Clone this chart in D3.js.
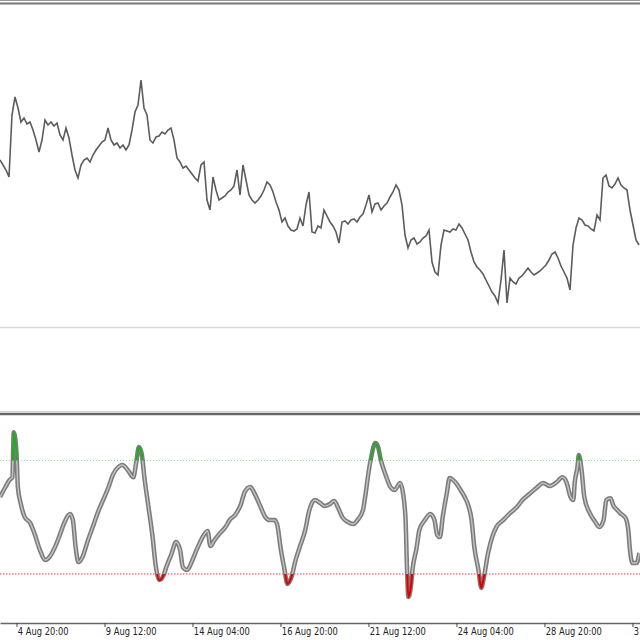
<!DOCTYPE html>
<html><head><meta charset="utf-8">
<script src="https://cdn.jsdelivr.net/npm/d3@7"></script>
<style>
html,body{margin:0;padding:0;background:#fff;}
svg{display:block;}
</style></head>
<body>
<script>
// ---- data ----
const prices = [
1.1170,1.1165,1.1160,1.1153,1.1215,1.1233,1.1222,1.1208,1.1212,1.1206,
1.1208,1.1200,1.1190,1.1178,1.1190,1.1210,1.1205,1.1208,1.1204,1.1207,
1.1195,1.1190,1.1202,1.1192,1.1175,1.1160,1.1152,1.1165,1.1170,1.1172,
1.1168,1.1175,1.1180,1.1184,1.1188,1.1190,1.1202,1.1190,1.1185,1.1187,
1.1182,1.1185,1.1180,1.1185,1.1200,1.1218,1.1225,1.1250,1.1222,1.1215,
1.1190,1.1187,1.1193,1.1194,1.1198,1.1196,1.1200,1.1202,1.1190,1.1172,
1.1168,1.1162,1.1164,1.1160,1.1156,1.1152,1.1149,1.1165,1.1168,1.1130,
1.1120,1.1153,1.1140,1.1130,1.1132,1.1134,1.1138,1.1140,1.1144,1.1160,
1.1135,1.1165,1.1150,1.1135,1.1130,1.1127,1.1130,1.1134,1.1140,1.1148,
1.1145,1.1138,1.1128,1.1120,1.1108,1.1112,1.1104,1.1100,1.1099,1.1101,
1.1112,1.1104,1.1125,1.1138,1.1098,1.1097,1.1104,1.1102,1.1120,1.1114,
1.1108,1.1104,1.1098,1.1087,1.1108,1.1109,1.1106,1.1110,1.1111,1.1108,
1.1113,1.1116,1.1125,1.1135,1.1118,1.1126,1.1127,1.1120,1.1124,1.1127,
1.1133,1.1138,1.1145,1.1140,1.1125,1.1095,1.1082,1.1090,1.1092,1.1086,
1.1088,1.1092,1.1094,1.1100,1.1068,1.1058,1.1055,1.1085,1.1100,1.1099,
1.1098,1.1101,1.1100,1.1106,1.1102,1.1096,1.1090,1.1078,1.1068,1.1063,
1.1060,1.1056,1.1050,1.1044,1.1038,1.1034,1.1027,1.1050,1.1080,1.1027,
1.1052,1.1048,1.1046,1.1052,1.1054,1.1058,1.1062,1.1058,1.1055,1.1057,
1.1059,1.1062,1.1065,1.1070,1.1076,1.1078,1.1072,1.1064,1.1058,1.1052,
1.1040,1.1085,1.1102,1.1112,1.1110,1.1105,1.1104,1.1101,1.1099,1.1115,
1.1110,1.1152,1.1155,1.1144,1.1142,1.1146,1.1152,1.1145,1.1142,1.1140,
1.1120,1.1105,1.1090,1.1085
];
const oscBars = [0,4,7,9,10,12,13,15,18,22,25,29,33,36,40,44,47,51,53,55,57,60,64,68,71,75,79,82,86,89,93,97,99,101,103,105,108,111,113,116,119,121,125,128,131,133,136,140,143,147,151,153,156,160,164,167,171,175,178,182,185,189,193,196,200,202,204,207,209,212,215,218,222,225,229,233,236,240,243,246,249,253,257,260,264,266,268,270,273,275,277,280,284,287,291,293,295,296,297,299,300,303,305,309,313,316,318,320,322,325,327,331,335,338,340,343,345,348,350,352,355,358,361,366,371,376,380,385,391,395,400,405,409,412,415,417,418,420,421,423,425,429,433,436,439,441,444,446,449,451,455,457,458,460,463,465];
const oscValues = [60.7,66.0,69.7,71.2,95.0,83.9,66.0,57.5,50.1,46.9,41.6,32.7,27.4,29.0,34.2,41.6,47.5,51.7,48.5,34.2,26.3,29.0,37.9,45.9,52.2,59.1,66.0,72.3,76.5,77.6,74.9,71.2,78.6,87.1,83.9,71.2,55.4,39.5,25.8,16.8,19.4,23.7,31.1,36.9,32.7,23.7,22.1,27.4,32.7,39.0,42.7,34.8,37.9,41.6,44.8,48.5,51.2,56.4,63.3,66.0,62.8,56.4,50.1,48.5,48.5,44.8,34.2,22.1,14.7,18.4,27.4,34.2,43.2,53.8,59.1,57.5,55.9,57.0,58.6,54.9,50.1,47.5,46.4,48.5,53.8,62.8,73.4,81.8,89.2,87.1,80.2,73.4,66.0,64.4,68.1,63.3,48.5,23.7,7.8,14.2,22.1,33.7,43.2,48.5,51.7,48.5,40.6,39.5,50.1,62.8,70.7,68.6,64.4,60.7,57.5,48.5,34.2,22.1,12.6,18.4,31.1,39.5,44.8,48.5,52.2,55.4,59.1,62.3,66.0,68.1,66.5,68.6,71.2,68.6,60.7,59.1,68.1,76.5,82.9,74.9,60.7,52.2,47.5,44.8,48.5,59.1,60.1,56.4,53.8,52.2,49.6,43.2,34.2,25.8,25.8,31.1];
const levelHigh = 80;
const levelLow = 20;
const tickBars = [12,76,140,204,268,332,396,460];
const tickLabels = ["4 Aug 20:00","9 Aug 12:00","14 Aug 04:00","16 Aug 20:00","21 Aug 12:00","24 Aug 04:00","28 Aug 20:00","31 Aug 12:00"];
const totalBars = 465.5;

// ---- chart ----
const W = 640, H = 640;
const svg = d3.select("body").append("svg").attr("width", W).attr("height", H);

// frame lines
svg.append("line").attr("x1",0).attr("x2",W).attr("y1",0.5).attr("y2",0.5).attr("stroke","#9a9a9a").attr("stroke-width",1);
svg.append("line").attr("x1",0).attr("x2",W).attr("y1",3.6).attr("y2",3.6).attr("stroke","#777").attr("stroke-width",2);
svg.append("line").attr("x1",0).attr("x2",W).attr("y1",327.5).attr("y2",327.5).attr("stroke","#d9d9d9").attr("stroke-width",1.5);
svg.append("line").attr("x1",0).attr("x2",W).attr("y1",411.5).attr("y2",411.5).attr("stroke","#d0d0d0").attr("stroke-width",1);
svg.append("line").attr("x1",0).attr("x2",W).attr("y1",414).attr("y2",414).attr("stroke","#666").attr("stroke-width",2.5);

// scales
const xBar = d3.scaleLinear().domain([0, totalBars]).range([0, W]);
const xPrice = d3.scaleLinear().domain([0, prices.length - 1]).range([0, 639]);
const yPrice = d3.scaleLinear().domain([1.1000, 1.1330]).range([330, 0]);
const yOsc = d3.scaleLinear().domain([0, 100]).range([611.8, 422.7]);

// price line
svg.append("path")
  .datum(prices)
  .attr("fill","none")
  .attr("stroke","#5c5c5c")
  .attr("stroke-width",1.6)
  .attr("stroke-linejoin","miter")
  .attr("d", d3.line().x((d,i)=>xPrice(i)).y(d=>yPrice(d)));

// levels
svg.append("line").attr("x1",0).attr("x2",W).attr("y1",yOsc(levelHigh)).attr("y2",yOsc(levelHigh))
  .attr("stroke","#8fe08f").attr("stroke-width",1).attr("stroke-dasharray","1,2");
svg.append("line").attr("x1",0).attr("x2",W).attr("y1",yOsc(levelLow)).attr("y2",yOsc(levelLow))
  .attr("stroke","#f03c3c").attr("stroke-width",1).attr("stroke-dasharray","1.5,1.5");

// oscillator
const oscData = oscBars.map((b,i)=>({b, v: oscValues[i]}));
const oscLine = d3.line().x(d=>xBar(d.b)).y(d=>yOsc(d.v)).curve(d3.curveMonotoneX);
svg.append("path").datum(oscData).attr("fill","none").attr("stroke","#7c7c7c").attr("stroke-width",4.5).attr("d",oscLine);
svg.append("path").datum(oscData).attr("fill","none").attr("stroke","#c4c4c4").attr("stroke-width",1.4).attr("d",oscLine);

const defs = svg.append("defs");
defs.append("clipPath").attr("id","clipHigh").append("rect")
  .attr("x",0).attr("y",0).attr("width",W).attr("height",yOsc(levelHigh));
defs.append("clipPath").attr("id","clipLow").append("rect")
  .attr("x",0).attr("y",yOsc(levelLow)).attr("width",W).attr("height",H - yOsc(levelLow));
svg.append("path").datum(oscData).attr("fill","none").attr("stroke","#2aa52a").attr("stroke-width",2.2)
  .attr("clip-path","url(#clipHigh)").attr("d",oscLine);
svg.append("path").datum(oscData).attr("fill","none").attr("stroke","#e00000").attr("stroke-width",2.2)
  .attr("clip-path","url(#clipLow)").attr("d",oscLine);

// x axis
const axis = d3.axisBottom(xBar).tickValues(tickBars)
  .tickFormat((d,i)=>tickLabels[i]).tickSize(4).tickSizeOuter(0);
const gx = svg.append("g").attr("transform","translate(0,623)").call(axis);
gx.select(".domain").attr("stroke","#666").attr("stroke-width",1.3);
gx.selectAll(".tick line").attr("stroke","#444");
gx.selectAll(".tick text")
  .attr("text-anchor","start").attr("x",1).attr("y",5).attr("dy","0.71em")
  .attr("transform","scale(0.88,1)")
  .attr("fill","#222")
  .style("font-family","'Liberation Sans Narrow','DejaVu Sans Condensed',sans-serif")
  .style("font-size","10.5px");
</script>
</body></html>
